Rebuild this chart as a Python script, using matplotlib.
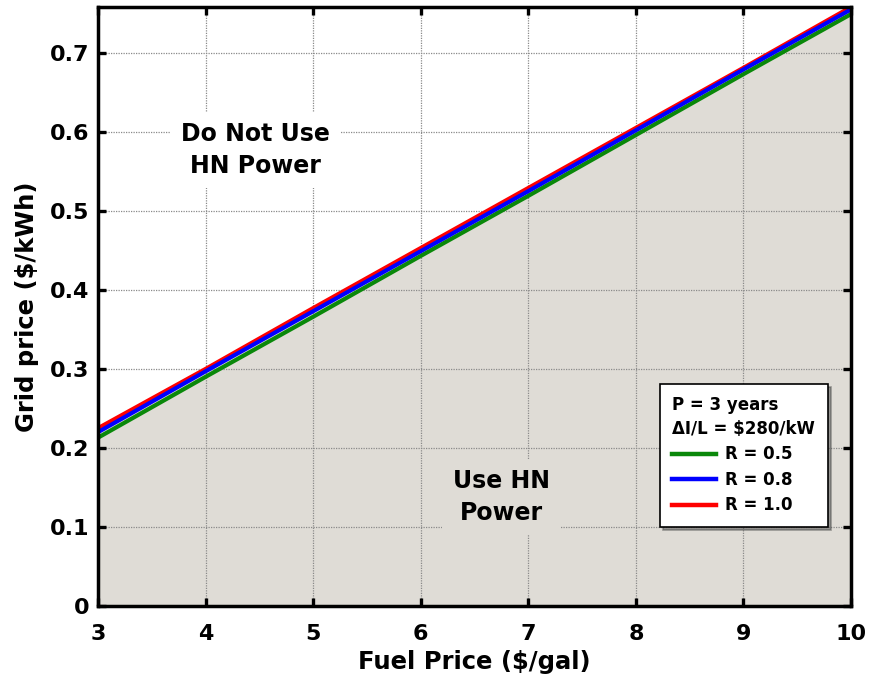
import matplotlib
matplotlib.use("Agg")
import matplotlib.pyplot as plt
from matplotlib.lines import Line2D

fuel_price = [3, 4, 5, 6, 7, 8, 9, 10]
grid_r05 = [0.213, 0.290, 0.366, 0.443, 0.519, 0.596, 0.673, 0.749]
grid_r08 = [0.220, 0.297, 0.373, 0.449, 0.525, 0.602, 0.679, 0.755]
grid_r10 = [0.225, 0.300, 0.377, 0.453, 0.529, 0.605, 0.681, 0.758]
series_labels = ["R = 0.5", "R = 0.8", "R = 1.0"]
xticks = [3, 4, 5, 6, 7, 8, 9, 10]
yticks = [0, 0.1, 0.2, 0.3, 0.4, 0.5, 0.6, 0.7]
ytick_labels = ["0", "0.1", "0.2", "0.3", "0.4", "0.5", "0.6", "0.7"]

plt.rcParams['font.family'] = ['DejaVu Sans']
plt.rcParams['font.weight'] = 'bold'

fig = plt.figure(figsize=(8.72, 6.83), dpi=100)
ax = fig.add_axes([0.1124, 0.1127, 0.8636, 0.8771])

fill_color = '#dfdcd6'
ax.fill_between(fuel_price, 0, grid_r10, color=fill_color, zorder=0, lw=0)

ax.grid(True, color='#8a8a8a', linestyle=(0, (1, 1)), linewidth=0.9, zorder=1)
ax.set_axisbelow(True)

colors = ['#0a880a', '#0000ff', '#ff0000']
ax.plot(fuel_price, grid_r10, color=colors[2], lw=3, zorder=3, solid_capstyle='butt')
ax.plot(fuel_price, grid_r08, color=colors[1], lw=3, zorder=4, solid_capstyle='butt')
ax.plot(fuel_price, grid_r05, color=colors[0], lw=3, zorder=3, solid_capstyle='butt')

ax.set_xlim(3, 10)
ax.set_ylim(0, 0.758)
ax.set_xticks(xticks)
ax.set_yticks(yticks)
ax.set_yticklabels(ytick_labels)
ax.tick_params(direction='in', length=6, width=2.4, top=True, right=True,
               labelsize=16)
ax.tick_params(axis='x', pad=13)
ax.tick_params(axis='y', pad=6)
for lbl in ax.get_xticklabels() + ax.get_yticklabels():
    lbl.set_fontweight('bold')
for s in ax.spines.values():
    s.set_linewidth(2.5)
    s.set_zorder(6)

ax.set_xlabel("Fuel Price ($/gal)", fontsize=17.5, fontweight='bold', labelpad=4)
ax.set_ylabel("Grid price ($/kWh)", fontsize=17.5, fontweight='bold', labelpad=8)

ax.text(4.46, 0.577, "Do Not Use\nHN Power", ha='center', va='center', fontsize=17,
        fontweight='bold', linespacing=1.4, zorder=5,
        bbox=dict(boxstyle='square,pad=0.45', fc='white', ec='none'))
ax.text(6.75, 0.138, "Use HN\nPower", ha='center', va='center', fontsize=17,
        fontweight='bold', linespacing=1.4, zorder=5,
        bbox=dict(boxstyle='square,pad=0.45', fc=fill_color, ec='none'))

handles = [Line2D([], [], color=colors[0], lw=3.2),
           Line2D([], [], color=colors[1], lw=3.2),
           Line2D([], [], color=colors[2], lw=3.2)]
leg = ax.legend(handles, series_labels, loc='lower right',
                bbox_to_anchor=(0.969, 0.132), borderaxespad=0,
                title="P = 3 years\n\u0394I/L = $280/kW", alignment='left',
                fontsize=12, title_fontproperties={'size': 12, 'weight': 'bold'},
                frameon=True, fancybox=False, shadow=True, edgecolor='black',
                framealpha=1, handlelength=2.6, handletextpad=0.55,
                labelspacing=0.45, borderpad=0.75)
leg.get_frame().set_linewidth(1.2)
leg.set_zorder(7)
for t in leg.get_texts():
    t.set_fontweight('bold')
leg.get_title().set_linespacing(1.4)

fig.savefig("out.png", dpi=100)
